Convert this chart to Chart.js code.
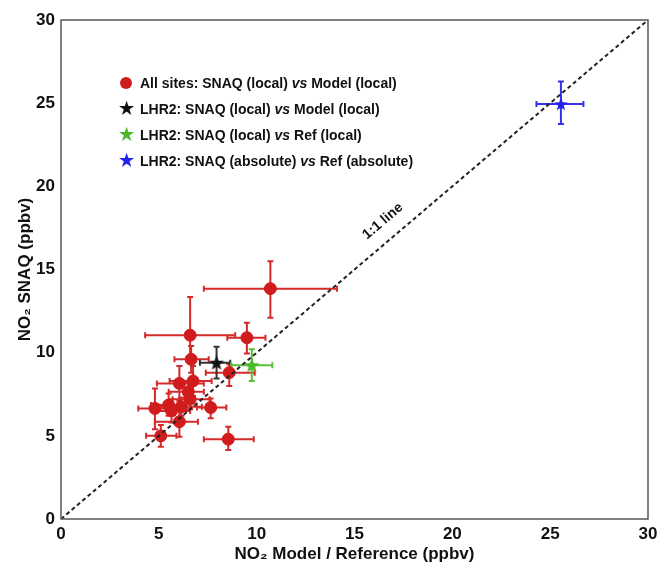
<!DOCTYPE html>
<html>
<head>
<meta charset="utf-8">
<script src="https://cdn.jsdelivr.net/npm/chart.js@4.4.1/dist/chart.umd.min.js"></script>
<style>
  html, body { margin: 0; padding: 0; background: #fff; }
  #wrap { position: relative; width: 657px; height: 569px; }
  #legend {
    position: absolute; left: 117px; top: 70px;
    font: bold 14px "Liberation Sans", Arial, sans-serif; color: #111;
  }
  #legend .row { height: 26px; line-height: 26px; white-space: nowrap; }
  #legend .mk { display: inline-block; width: 18px; text-align: center; margin-right: 5px; }
  #legend .dot { display: inline-block; width: 12px; height: 12px; border-radius: 50%; background: #d01c1c; vertical-align: -1px; }
  #legend .star { font-size: 17px; }
</style>
</head>
<body>
<div id="wrap">
  <canvas id="c" width="657" height="569"></canvas>
  <div id="legend">
    <div class="row"><span class="mk"><span class="dot"></span></span>All sites: SNAQ (local) <i>vs</i> Model (local)</div>
    <div class="row"><span class="mk star" style="color:#111">★</span>LHR2: SNAQ (local) <i>vs</i> Model (local)</div>
    <div class="row"><span class="mk star" style="color:#4cb82a">★</span>LHR2: SNAQ (local) <i>vs</i> Ref (local)</div>
    <div class="row"><span class="mk star" style="color:#2222ee">★</span>LHR2: SNAQ (absolute) <i>vs</i> Ref (absolute)</div>
  </div>
</div>
<script>
/* ---------- Data ---------- */

// all sites: SNAQ (local) vs Model (local)
const siteX    = [10.7, 6.6, 9.5, 6.65, 8.6, 6.75, 6.05, 6.5, 6.6, 4.8, 5.5, 5.65, 6.15, 7.65, 6.05, 5.1, 8.55];
const siteY    = [13.85, 11.05, 10.9, 9.6, 8.8, 8.3, 8.15, 7.65, 7.2, 6.65, 6.85, 6.5, 6.75, 6.7, 5.85, 5.0, 4.8];
const siteXLo  = [7.3, 4.3, 8.5, 5.8, 7.4, 5.55, 4.9, 5.5, 5.7, 3.95, 4.6, 4.8, 5.0, 6.95, 4.8, 4.35, 7.3];
const siteXHi  = [14.1, 8.9, 10.45, 7.55, 9.9, 7.7, 7.3, 7.3, 7.6, 5.7, 6.4, 6.6, 7.2, 8.45, 7.0, 5.9, 9.85];
const siteYLo  = [12.1, 9.6, 9.95, 8.8, 8.0, 7.4, 7.1, 7.1, 6.6, 5.4, 6.2, 5.8, 6.2, 6.05, 4.95, 4.35, 4.15];
const siteYHi  = [15.5, 13.35, 11.8, 10.4, 9.3, 9.2, 9.2, 8.2, 7.8, 7.85, 7.55, 7.2, 7.3, 7.25, 6.75, 5.65, 5.55];

// LHR2 single points: [x, y, xLo, xHi, yLo, yHi]
const lhrModel = [7.95, 9.4, 7.1, 8.65, 8.45, 10.35];
const lhrRef   = [9.75, 9.25, 8.7, 10.8, 8.3, 10.2];
const lhrAbs   = [25.55, 24.95, 24.3, 26.7, 23.75, 26.3];

const axisMin = 0;
const axisMax = 30;
const tickStep = 5;

/* ---------- Helpers ---------- */

function starImage(color, r) {
    const s = Math.ceil(r * 2 + 2);
    const cv = document.createElement("canvas");
    cv.width = s; cv.height = s;
    const g = cv.getContext("2d");
    g.translate(s / 2, s / 2 + r * 0.08);
    g.beginPath();
    for (let i = 0; i < 10; i++) {
        const rad = i % 2 ? r * 0.42 : r;
        const a = -Math.PI / 2 + i * Math.PI / 5;
        g.lineTo(Math.cos(a) * rad, Math.sin(a) * rad);
    }
    g.closePath();
    g.fillStyle = color;
    g.fill();
    return cv;
}

function single(p) {
    return [{ x: p[0], y: p[1], xLo: p[2], xHi: p[3], yLo: p[4], yHi: p[5] }];
}

const sitePoints = siteX.map((x, i) => ({
    x, y: siteY[i], xLo: siteXLo[i], xHi: siteXHi[i], yLo: siteYLo[i], yHi: siteYHi[i]
}));

/* ---------- Plugins ---------- */

const errorBars = {
    id: "errorBars",
    beforeDatasetsDraw(chart) {
        const { ctx, scales: { x, y } } = chart;
        chart.data.datasets.forEach(ds => {
            if (!ds.errColor) return;
            ctx.save();
            ctx.strokeStyle = ds.errColor;
            ctx.lineWidth = 2;
            const cap = 3;
            ds.data.forEach(p => {
                const px = x.getPixelForValue(p.x), py = y.getPixelForValue(p.y);
                const x0 = x.getPixelForValue(p.xLo), x1 = x.getPixelForValue(p.xHi);
                const y0 = y.getPixelForValue(p.yLo), y1 = y.getPixelForValue(p.yHi);
                ctx.beginPath();
                ctx.moveTo(x0, py); ctx.lineTo(x1, py);
                ctx.moveTo(x0, py - cap); ctx.lineTo(x0, py + cap);
                ctx.moveTo(x1, py - cap); ctx.lineTo(x1, py + cap);
                ctx.moveTo(px, y0); ctx.lineTo(px, y1);
                ctx.moveTo(px - cap, y0); ctx.lineTo(px + cap, y0);
                ctx.moveTo(px - cap, y1); ctx.lineTo(px + cap, y1);
                ctx.stroke();
            });
            ctx.restore();
        });
    }
};

const frame = {
    id: "frame",
    afterDraw(chart) {
        const { ctx, chartArea: a, scales: { x, y } } = chart;
        ctx.save();
        ctx.strokeStyle = "#555";
        ctx.lineWidth = 1.5;
        ctx.strokeRect(a.left, a.top, a.right - a.left, a.bottom - a.top);

        // "1:1 line" label along the diagonal
        const ang = Math.atan2(y.getPixelForValue(axisMax) - y.getPixelForValue(axisMin),
                               x.getPixelForValue(axisMax) - x.getPixelForValue(axisMin));
        ctx.translate(x.getPixelForValue(16.45), y.getPixelForValue(17.9));
        ctx.rotate(ang);
        ctx.fillStyle = "#111";
        ctx.font = "bold 14px 'Liberation Sans', Arial, sans-serif";
        ctx.textAlign = "center";
        ctx.textBaseline = "middle";
        ctx.fillText("1:1 line", 0, 0);
        ctx.restore();
    }
};

/* ---------- Chart ---------- */

const tickFont = { family: "'Liberation Sans', Arial, sans-serif", size: 17, weight: "bold" };
const titleFont = { family: "'Liberation Sans', Arial, sans-serif", size: 17, weight: "bold" };

new Chart(document.getElementById("c"), {
    type: "scatter",
    data: {
        datasets: [
            {
                type: "line",
                data: [{ x: axisMin, y: axisMin }, { x: axisMax, y: axisMax }],
                borderColor: "#222",
                borderWidth: 2,
                borderDash: [4, 3],
                pointRadius: 0,
                fill: false
            },
            {
                data: sitePoints,
                backgroundColor: "#d01c1c",
                borderColor: "#d01c1c",
                pointRadius: 6,
                errColor: "#d42a2a"
            },
            {
                data: single(lhrModel),
                pointStyle: starImage("#111", 8),
                errColor: "#333"
            },
            {
                data: single(lhrRef),
                pointStyle: starImage("#4cb82a", 8),
                errColor: "#5bbf3a"
            },
            {
                data: single(lhrAbs),
                pointStyle: starImage("#2222ee", 7),
                errColor: "#3333ee"
            }
        ]
    },
    options: {
        responsive: false,
        animation: false,
        layout: { padding: { top: 20, right: 9, left: 0, bottom: 0 } },
        plugins: { legend: { display: false }, tooltip: { enabled: false } },
        scales: {
            x: {
                type: "linear", min: axisMin, max: axisMax,
                grid: { display: false },
                border: { display: false },
                ticks: { stepSize: tickStep, color: "#111", font: tickFont, padding: -3, maxRotation: 0 },
                title: { display: true, text: "NO₂ Model / Reference (ppbv)", color: "#111", font: titleFont, padding: { top: 0, bottom: 4 } },
                afterFit: s => { s.height = 50; }
            },
            y: {
                type: "linear", min: axisMin, max: axisMax,
                grid: { display: false },
                border: { display: false },
                ticks: { stepSize: tickStep, color: "#111", font: tickFont, padding: -2 },
                title: { display: true, text: "NO₂ SNAQ (ppbv)", color: "#111", font: titleFont, padding: { top: 15, bottom: 0 } },
                afterFit: s => { s.width = 61; }
            }
        }
    },
    plugins: [errorBars, frame]
});
</script>
</body>
</html>
